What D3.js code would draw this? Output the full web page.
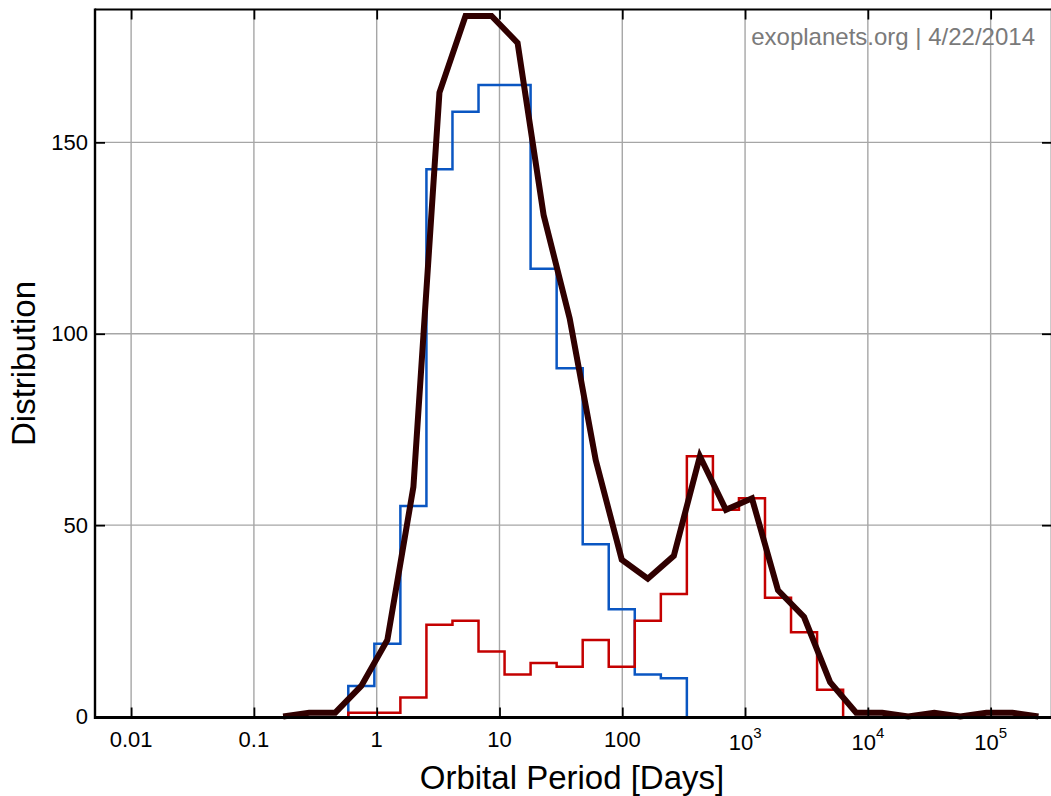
<!DOCTYPE html>
<html>
<head>
<meta charset="utf-8">
<script src="https://cdn.jsdelivr.net/npm/d3@7"></script>
<style>
  html, body { margin: 0; padding: 0; background: #fff; }
  svg { display: block; font-family: "Liberation Sans", Arial, Helvetica, sans-serif; }
</style>
</head>
<body>
<svg id="chart" width="1051" height="796"></svg>
<script>
// ---- data ----
// histogram bin edges, orbital period in days (log-spaced bins)
const binEdges = [0.587, 0.957, 1.559, 2.541, 4.141, 6.749, 11.00, 17.92, 29.21, 47.61,
                  77.58, 126.4, 206.1, 335.7, 547.2, 891.7, 1453, 2368, 3859, 6288];
// blue histogram (transiting planets), one count per bin starting at binEdges[0]
const transitCounts = [8, 19, 55, 143, 158, 165, 165, 117, 91, 45, 28, 11, 10];
// red histogram (RV planets)
const rvCounts = [1, 1, 5, 24, 25, 17, 11, 14, 13, 20, 13, 25, 32, 68, 54, 57, 31, 22, 7];
// black curve (all planets), at bin centres
const allPeriods = [0.1731, 0.2821, 0.4598, 0.7493, 1.221, 1.991, 3.244, 5.287, 8.615, 14.04,
                    22.88, 37.29, 60.77, 99.02, 161.4, 263.0, 428.6, 698.5, 1138, 1855,
                    3023, 4926, 8028, 13084, 21323, 34750, 56630, 92290, 150400, 245100];
const allCounts = [0, 1, 1, 8, 20, 60, 163, 183, 183, 176, 131, 104, 67, 41, 36, 42, 68, 54, 57,
                   33, 26, 9, 1, 1, 0, 1, 0, 1, 1, 0];
// tick values / labels
const xTicks = [0.01, 0.1, 1, 10, 100, 1000, 10000, 100000];
const xTickLabels = [["0.01", ""], ["0.1", ""], ["1", ""], ["10", ""], ["100", ""], ["10", "3"], ["10", "4"], ["10", "5"]];
const yTicks = [0, 50, 100, 150];
const yGrid = [50, 100, 150];
const xTitle = "Orbital Period [Days]";
const yTitle = "Distribution";
const credit = "exoplanets.org | 4/22/2014";

// ---- layout ----
const L = 95, R = 1052, T = 9.5, B = 717.5;
const svg = d3.select("#chart");

const x = d3.scaleLog().domain([0.00508, 316000]).range([L, R]);
const y = d3.scaleLinear().domain([-0.25, 184.7]).range([B, T]);

// grid
const grid = svg.append("g");
grid.selectAll("line.gx").data(xTicks).join("line")
  .attr("x1", d => x(d)).attr("x2", d => x(d)).attr("y1", T).attr("y2", B)
  .attr("stroke", "#a6a6a6").attr("stroke-width", 1.4);
grid.selectAll("line.gy").data(yGrid).join("line")
  .attr("x1", L).attr("x2", R).attr("y1", d => y(d)).attr("y2", d => y(d))
  .attr("stroke", "#a6a6a6").attr("stroke-width", 1.4);

// step histograms
function histPoints(counts) {
  const pts = [[binEdges[0], 0]];
  counts.forEach((c, i) => pts.push([binEdges[i], c]));
  pts.push([binEdges[counts.length], 0]);
  return pts;
}
const stepLine = d3.line().x(d => x(d[0])).y(d => y(d[1])).curve(d3.curveStepAfter);

svg.append("path").attr("d", stepLine(histPoints(transitCounts)))
  .attr("fill", "none").attr("stroke", "#0a56c2").attr("stroke-width", 2.5);
svg.append("path").attr("d", stepLine(histPoints(rvCounts)))
  .attr("fill", "none").attr("stroke", "#c40000").attr("stroke-width", 2.5);

// total curve
const polyLine = d3.line().x(d => x(d[0])).y(d => y(d[1]));
svg.append("path").attr("d", polyLine(allPeriods.map((p, i) => [p, allCounts[i]])))
  .attr("fill", "none").attr("stroke", "#300000").attr("stroke-width", 6)
  .attr("stroke-linejoin", "miter").attr("stroke-miterlimit", 4);

// axes (inward ticks)
function styleAxis(g) {
  g.select(".domain").remove();
  g.selectAll(".tick line").attr("stroke", "#000").attr("stroke-width", 1.8);
  g.selectAll(".tick text").remove();
}
svg.append("g").attr("transform", `translate(0,${B})`)
  .call(d3.axisBottom(x).tickValues(xTicks).tickSize(-10).tickFormat(() => "")).call(styleAxis);
svg.append("g").attr("transform", `translate(0,${T})`)
  .call(d3.axisTop(x).tickValues(xTicks).tickSize(-10).tickFormat(() => "")).call(styleAxis);
svg.append("g").attr("transform", `translate(${L},0)`)
  .call(d3.axisLeft(y).tickValues(yTicks).tickSize(-10).tickFormat(() => "")).call(styleAxis);
svg.append("g").attr("transform", `translate(${R},0)`)
  .call(d3.axisRight(y).tickValues(yTicks).tickSize(-10).tickFormat(() => "")).call(styleAxis);

// frame
svg.append("line").attr("x1", L).attr("x2", R).attr("y1", T).attr("y2", T).attr("stroke", "#000").attr("stroke-width", 2.2);
svg.append("line").attr("x1", L).attr("x2", R).attr("y1", B).attr("y2", B).attr("stroke", "#000").attr("stroke-width", 3);
svg.append("line").attr("x1", L).attr("x2", L).attr("y1", T - 1).attr("y2", B + 1.5).attr("stroke", "#000").attr("stroke-width", 2.4);
svg.append("line").attr("x1", R).attr("x2", R).attr("y1", T - 1).attr("y2", B + 1.5).attr("stroke", "#000").attr("stroke-width", 2.4);

// y tick labels
svg.append("g").selectAll("text").data(yTicks).join("text")
  .attr("x", L - 7).attr("y", d => y(d)).attr("dy", "0.35em")
  .attr("text-anchor", "end").attr("font-size", 22).attr("fill", "#000")
  .text(d => d);

// x tick labels (with superscripts)
const xl = svg.append("g").selectAll("text").data(xTicks).join("text")
  .attr("x", d => x(d)).attr("y", (d, i) => xTickLabels[i][1] ? 750 : 747)
  .attr("text-anchor", "middle").attr("font-size", 22).attr("fill", "#000");
xl.append("tspan").text((d, i) => xTickLabels[i][0]);
xl.append("tspan").attr("font-size", 15).attr("dy", (d, i) => xTickLabels[i][1] ? -12 : 0)
  .text((d, i) => xTickLabels[i][1]);

// titles
svg.append("text").attr("x", 572).attr("y", 788.5).attr("text-anchor", "middle")
  .attr("font-size", 33).attr("fill", "#000").text(xTitle);
svg.append("text").attr("transform", `translate(35,${(T + B) / 2}) rotate(-90)`)
  .attr("text-anchor", "middle").attr("font-size", 33).attr("fill", "#000").text(yTitle);

// credit
svg.append("text").attr("x", 1035).attr("y", 44.5).attr("text-anchor", "end")
  .attr("font-size", 24).attr("fill", "#7a7a7a").text(credit);
</script>
</body>
</html>
